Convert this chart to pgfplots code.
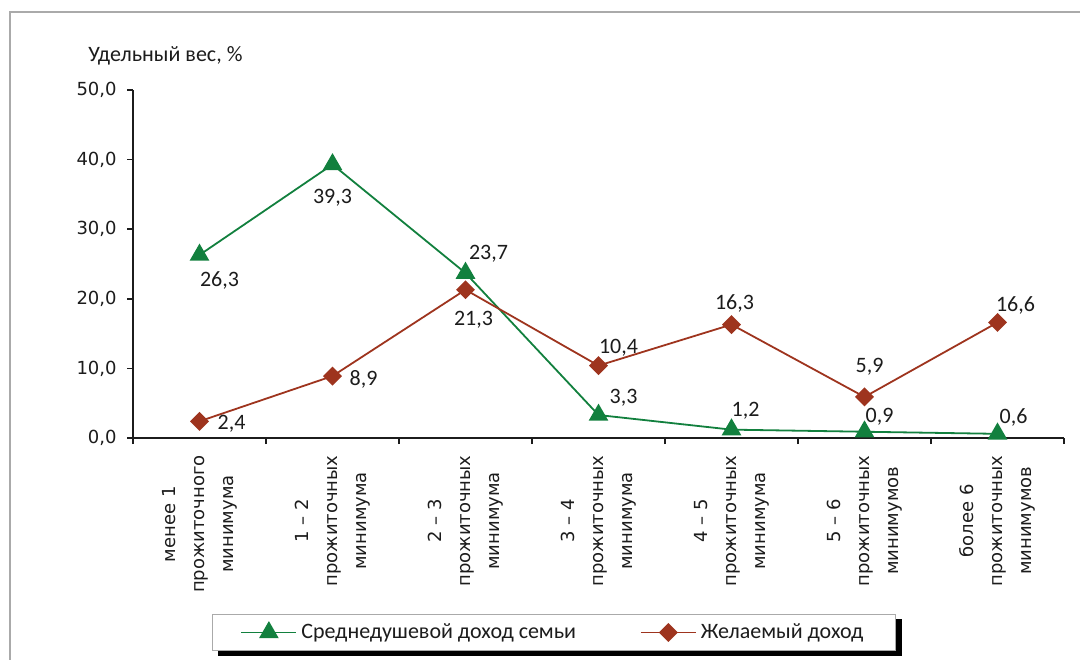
\documentclass[border=0pt]{standalone}
\usepackage{fontspec}
\setmainfont{Carlito}
\newfontfamily\axfont{DejaVu Sans}
\usepackage{pgfplots}
\pgfplotsset{compat=1.18}
\usetikzlibrary{backgrounds}
\definecolor{cgreen}{RGB}{18,128,62}
\definecolor{cred}{RGB}{158,52,30}
\definecolor{cframe}{RGB}{170,170,170}
\definecolor{ctext}{RGB}{28,28,28}

\begin{document}
\begin{tikzpicture}[lbl/.style={font=\fontsize{11}{12}\selectfont, text=ctext, inner sep=0pt}]
\useasboundingbox (0,0) rectangle (540pt,329.5pt);
\begin{scope}
\clip (0,0) rectangle (540pt,329.5pt);
\draw[cframe, line width=1pt] (5pt,-10pt) -- (5pt,323.5pt) -- (560pt,323.5pt);
\end{scope}
\node[anchor=west, font=\fontsize{11}{12}\selectfont, text=ctext, inner sep=0pt] at (44pt,301.5pt) {Удельный вес, \%};

\begin{axis}[
  at={(66.5pt,110.5pt)}, anchor=south west,
  scale only axis, width=465.5pt, height=174pt,
  xmin=-0.5, xmax=6.5, ymin=0, ymax=50,
  clip=false,
  axis x line*=bottom, axis y line*=left,
  axis line style={line width=1pt, color=ctext},
  tick align=outside, major tick length=3pt,
  tick style={line width=0.8pt, color=ctext},
  ytick={0,10,...,50},
  y tick label style={/pgf/number format/fixed, /pgf/number format/fixed zerofill,
    /pgf/number format/precision=1, /pgf/number format/use comma,
    /pgf/number format/assume math mode=true},
  y tick label style={font=\axfont\fontsize{9}{11}\selectfont, text=ctext, inner xsep=5pt},
  xtick={-0.5,0.5,...,6.5},
  x tick label as interval,
  xticklabels={{менее 1\\прожиточного\\минимума},
               {1 – 2\\прожиточных\\минимума},
               {2 – 3\\прожиточных\\минимума},
               {3 – 4\\прожиточных\\минимума},
               {4 – 5\\прожиточных\\минимума},
               {5 – 6\\прожиточных\\минимумов},
               {более 6\\прожиточных\\минимумов}},
  x tick label style={rotate=90, anchor=east, align=center, text=ctext,
    font=\axfont\fontsize{9}{14.5}\selectfont, inner xsep=5.5pt},
  legend columns=2,
  legend style={name=leg, at={(0.4522,-0.5589)}, anchor=center, draw=cframe, line width=0.8pt,
    fill=white, font=\fontsize{11}{12}\selectfont, text=ctext, inner xsep=14pt, inner ysep=2.5pt,
    /tikz/every even column/.append style={column sep=30pt}},
  legend image code/.code={\draw[mark repeat=2, mark phase=2] plot coordinates {(0pt,0pt) (13.75pt,0pt) (27.5pt,0pt)};},
]
\addplot[cgreen, line width=0.9pt, mark=triangle*, mark size=4.8pt, mark options={solid}]
  coordinates {(0,26.3) (1,39.3) (2,23.7) (3,3.3) (4,1.2) (5,0.9) (6,0.6)};
\addlegendentry{Среднедушевой доход семьи}
\addplot[cred, line width=0.9pt, mark=square*, mark size=2.9pt, mark options={solid, rotate=45}]
  coordinates {(0,2.4) (1,8.9) (2,21.3) (3,10.4) (4,16.3) (5,5.9) (6,16.6)};
\addlegendentry{Желаемый доход}

\node[lbl, xshift=10pt, yshift=-13pt] at (axis cs:0,26.3) {26,3};
\node[lbl, xshift=0pt, yshift=-16.5pt] at (axis cs:1,39.3) {39,3};
\node[lbl, xshift=11.5pt, yshift=9.5pt] at (axis cs:2,23.7) {23,7};
\node[lbl, xshift=12.5pt, yshift=8.5pt] at (axis cs:3,3.3) {3,3};
\node[lbl, xshift=7pt, yshift=9.5pt] at (axis cs:4,1.2) {1,2};
\node[lbl, xshift=7.5pt, yshift=7.5pt] at (axis cs:5,0.9) {0,9};
\node[lbl, xshift=8pt, yshift=8pt] at (axis cs:6,0.6) {0,6};

\node[lbl, xshift=16pt, yshift=-1pt] at (axis cs:0,2.4) {2,4};
\node[lbl, xshift=15.5pt, yshift=-1.5pt] at (axis cs:1,8.9) {8,9};
\node[lbl, xshift=4pt, yshift=-15pt] at (axis cs:2,21.3) {21,3};
\node[lbl, xshift=10pt, yshift=9pt] at (axis cs:3,10.4) {10,4};
\node[lbl, xshift=1.5pt, yshift=10.5pt] at (axis cs:4,16.3) {16,3};
\node[lbl, xshift=2.5pt, yshift=15pt] at (axis cs:5,5.9) {5,9};
\node[lbl, xshift=9pt, yshift=8.5pt] at (axis cs:6,16.6) {16,6};
\end{axis}
\begin{scope}[on background layer]
\fill[black] ([xshift=3pt,yshift=-2.5pt]leg.south west) rectangle ([xshift=3pt,yshift=-2.5pt]leg.north east);
\end{scope}
\end{tikzpicture}
\end{document}
